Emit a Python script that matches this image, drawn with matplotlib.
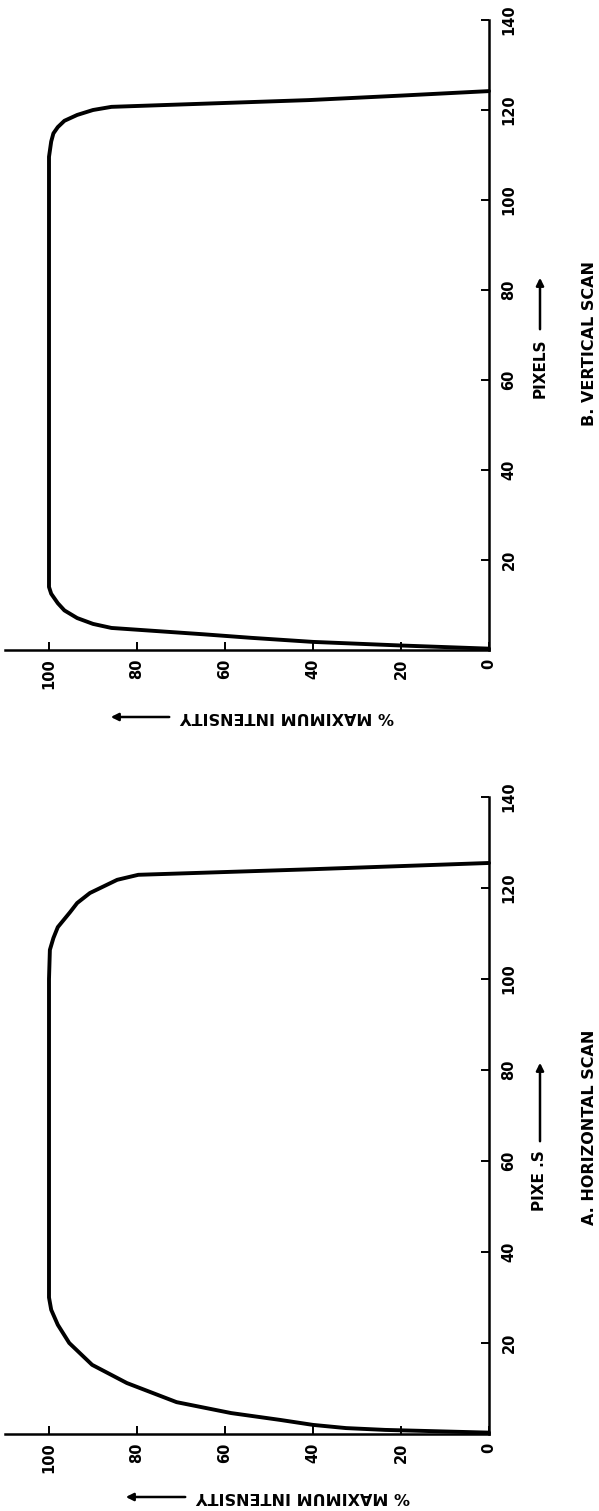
import matplotlib
matplotlib.use("Agg")
import matplotlib.pyplot as plt

# ---------------- data ----------------
# B. Vertical scan (pixels vs % maximum intensity)
vert_pixels = [0.3, 1.0, 1.8, 2.7, 3.5, 4.9, 5.8, 7.1, 8.8, 10.4, 12.5, 14.0, 20.0,
               40.0, 60.0, 80.0, 100.0, 109.6, 113.0, 114.8, 116.2, 117.6, 118.9,
               120.0, 120.7, 122.2, 123.2, 124.2]
vert_intensity = [0.0, 20.0, 40.0, 54.0, 65.0, 85.8, 90.0, 93.6, 96.5, 98.0, 99.5, 100.0, 100.0,
                  100.0, 100.0, 100.0, 100.0, 100.0, 99.5, 99.0, 98.0, 96.5, 93.6,
                  90.0, 85.8, 41.0, 20.0, 0.0]

# A. Horizontal scan
horiz_pixels = [0.3, 0.9, 1.3, 2.0, 3.1, 4.6, 7.0, 11.2, 15.2, 20.0, 24.0, 27.3, 30.0,
                40.0, 60.0, 80.0, 100.0, 106.4, 109.0, 111.4, 114.7, 116.7, 118.9,
                121.8, 122.9, 124.1, 125.5]
horiz_intensity = [0.0, 23.6, 32.5, 40.0, 47.5, 58.6, 71.0, 82.3, 90.2, 95.4, 98.0, 99.5, 100.0,
                   100.0, 100.0, 100.0, 100.0, 99.8, 99.0, 98.0, 95.2, 93.6, 90.7,
                   84.5, 79.7, 41.0, 0.0]

intensity_ticks = [100, 80, 60, 40, 20, 0]
pixel_ticks = [20, 40, 60, 80, 100, 120, 140]

panel_titles = ["B. VERTICAL SCAN", "A. HORIZONTAL SCAN"]
pixel_labels = ["PIXELS", "PIXE .S"]
intensity_label = "% MAXIMUM INTENSITY"

# ---------------- figure ----------------
W, H = 599, 1511
fig = plt.figure(figsize=(W / 100, H / 100), dpi=100)
plt.rcParams['font.family'] = ['DejaVu Sans']


def fx(x):
    return x / W


def fy(y):
    return 1 - y / H


def panel(top_px, bottom_px, pixels, intensity, title, pix_label,
          ylab_text_left, ylab_y, ylab_arrow, pix_text_top, pix_arrow, title_cy):
    left_px, right_px = 5, 489
    ax = fig.add_axes([fx(left_px), fy(bottom_px), (right_px - left_px) / W,
                       (bottom_px - top_px) / H])
    ax.plot(intensity, pixels, color='black', lw=2.8, solid_capstyle='round',
            solid_joinstyle='round', clip_on=False)
    ax.set_xlim(110, 0)
    ax.set_ylim(0, 140)
    for s in ['top', 'left']:
        ax.spines[s].set_visible(False)
    for s in ['bottom', 'right']:
        ax.spines[s].set_linewidth(1.8)
    ax.set_xticks(intensity_ticks)
    ax.set_xticklabels([str(t) for t in intensity_ticks], rotation=90,
                       fontweight='bold', fontsize=10.5)
    ax.yaxis.tick_right()
    ax.set_yticks(pixel_ticks)
    ax.set_yticklabels([str(t) for t in pixel_ticks], rotation=90,
                       fontweight='bold', fontsize=10.5, va='center')
    ax.tick_params(axis='x', direction='in', length=6, width=1.4, pad=6)
    ax.tick_params(axis='y', direction='in', length=6, width=1.4, pad=9)
    ax.set_facecolor('none')

    # intensity axis label (rotated 180) with arrow
    fig.text(fx(ylab_text_left), fy(ylab_y), intensity_label, rotation=180,
             ha='left', va='center', fontsize=11.5, fontweight='bold')
    fig.add_artist(matplotlib.patches.FancyArrowPatch(
        (fx(ylab_arrow[0]), fy(ylab_y)), (fx(ylab_arrow[1]), fy(ylab_y)),
        transform=fig.transFigure, arrowstyle='-|>', mutation_scale=11,
        lw=1.8, color='black'))

    # pixel axis label (rotated 90) with arrow
    fig.text(fx(540), fy(pix_text_top), pix_label, rotation=90,
             ha='center', va='top', fontsize=11, fontweight='bold')
    fig.add_artist(matplotlib.patches.FancyArrowPatch(
        (fx(540), fy(pix_arrow[0])), (fx(540), fy(pix_arrow[1])),
        transform=fig.transFigure, arrowstyle='-|>', mutation_scale=11,
        lw=1.8, color='black'))

    # panel title
    fig.text(fx(590), fy(title_cy), title, rotation=90,
             ha='center', va='center', fontsize=11.5, fontweight='bold')
    return ax


panel(20, 650, vert_pixels, vert_intensity, panel_titles[0], pixel_labels[0],
      ylab_text_left=180, ylab_y=717, ylab_arrow=(172, 108),
      pix_text_top=338, pix_arrow=(332, 275), title_cy=343)

panel(797, 1434, horiz_pixels, horiz_intensity, panel_titles[1], pixel_labels[1],
      ylab_text_left=196, ylab_y=1497, ylab_arrow=(188, 123),
      pix_text_top=1150, pix_arrow=(1144, 1060), title_cy=1127)

fig.savefig("out.png", dpi=100, facecolor='white')
